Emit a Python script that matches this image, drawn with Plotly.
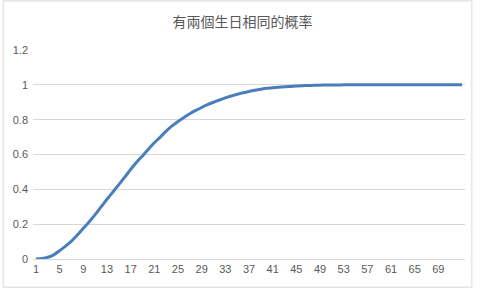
import plotly.graph_objects as go

categories = list(range(1, 74))
probability = [
    0.0, 0.003, 0.010, 0.024, 0.048, 0.074, 0.103, 0.138, 0.176, 0.214,
    0.255, 0.299, 0.343, 0.385, 0.427, 0.470, 0.514, 0.555, 0.592, 0.630,
    0.667, 0.700, 0.734, 0.764, 0.790, 0.813, 0.834, 0.853, 0.870, 0.886,
    0.900, 0.913, 0.925, 0.936, 0.946, 0.955, 0.962, 0.969, 0.975, 0.980,
    0.983, 0.986, 0.989, 0.991, 0.993, 0.995, 0.996, 0.997, 0.998, 0.999,
    0.999, 0.999, 1.0, 1.0, 1.0, 1.0, 1.0, 1.0, 1.0, 1.0,
    1.0, 1.0, 1.0, 1.0, 1.0, 1.0, 1.0, 1.0, 1.0, 1.0,
    1.0, 1.0, 1.0,
]
x_tick_labels = list(range(1, 70, 4))
y_ticks = [0, 0.2, 0.4, 0.6, 0.8, 1, 1.2]
title_text = "有兩個生日相同的概率"

fig = go.Figure()
fig.add_trace(go.Scatter(
    x=categories, y=probability, mode="lines", line_shape="spline",
    line=dict(color="#4a7ebb", width=3, smoothing=0.6), hoverinfo="skip",
))

font_family = "Liberation Sans, Arial, sans-serif"
fig.update_layout(
    width=480, height=288,
    margin=dict(l=33, r=15, t=50, b=29),
    paper_bgcolor="white", plot_bgcolor="white",
    showlegend=False,
    title=dict(text=title_text, x=0.505, xanchor="center", y=0.925, yanchor="middle",
               font=dict(family="Noto Sans CJK TC, sans-serif", size=14, color="#595959")),
    xaxis=dict(
        range=[0.5, 73.5], tickmode="array", tickvals=x_tick_labels,
        ticktext=[str(v) for v in x_tick_labels],
        showgrid=False, zeroline=False, showline=True, linecolor="#d9d9d9", linewidth=1,
        ticks="", tickfont=dict(family=font_family, size=11, color="#595959"),
        fixedrange=True,
    ),
    yaxis=dict(
        range=[0, 1.2], tickmode="array", tickvals=y_ticks,
        ticktext=["0", "0.2", "0.4", "0.6", "0.8", "1", "1.2"],
        showgrid=True, gridcolor="#d9d9d9", gridwidth=1, zeroline=False, showline=False,
        ticks="", tickfont=dict(family=font_family, size=11, color="#595959"),
        ticklabelstandoff=4, fixedrange=True,
    ),
    shapes=[dict(type="rect", xref="paper", yref="paper",
                 x0=-0.069, x1=1.016, y0=-0.135, y1=1.235,
                 line=dict(color="#d9d9d9", width=1), fillcolor="rgba(0,0,0,0)", layer="below")],
)
fig.write_html("out.html")
